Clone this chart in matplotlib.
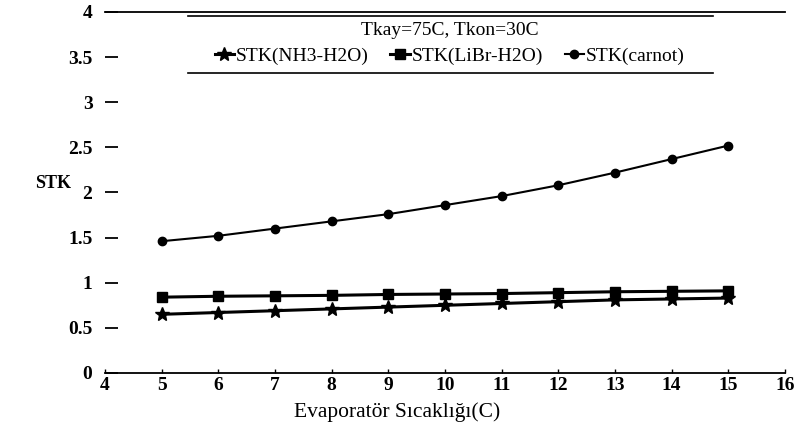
import matplotlib
matplotlib.use("Agg")
import matplotlib.pyplot as plt
from matplotlib.ticker import FuncFormatter

plt.rcParams['font.family'] = ['Liberation Serif', 'DejaVu Serif']

# evaporator temperature (C)
evap_temp = [5, 6, 7, 8, 9, 10, 11, 12, 13, 14, 15]

# COP (STK) values
stk_nh3 = [0.65, 0.67, 0.69, 0.71, 0.73, 0.75, 0.77, 0.79, 0.81, 0.82, 0.83]
stk_libr = [0.84, 0.85, 0.855, 0.86, 0.87, 0.875, 0.88, 0.89, 0.90, 0.905, 0.91]
stk_carnot = [1.46, 1.52, 1.60, 1.68, 1.76, 1.86, 1.96, 2.08, 2.22, 2.37, 2.52]

x_ticks = list(range(4, 17))
y_ticks = [0, 0.5, 1, 1.5, 2, 2.5, 3, 3.5, 4]

legend_title = "Tkay=75C, Tkon=30C"

fig = plt.figure(figsize=(7.99, 4.34), dpi=100)
ax = fig.add_axes([0.1314, 0.1406, 0.8511, 0.8318])

ax.plot(evap_temp, stk_nh3, color='black', lw=2.2, marker='*', ms=10,
        label='STK(NH3-H2O)')
ax.plot(evap_temp, stk_libr, color='black', lw=2.2, marker='s', ms=7.5,
        label='STK(LiBr-H2O)')
ax.plot(evap_temp, stk_carnot, color='black', lw=1.5, marker='o', ms=6,
        label='STK(carnot)')

ax.set_xlim(4, 16)
ax.set_ylim(0, 4)
ax.set_xticks(x_ticks)
ax.set_yticks(y_ticks)
ax.yaxis.set_major_formatter(FuncFormatter(lambda v, p: f"{v:g}"))

for side in ['left', 'right']:
    ax.spines[side].set_visible(False)
ax.spines['top'].set_linewidth(1.3)
ax.spines['bottom'].set_linewidth(1.3)

ax.tick_params(axis='y', direction='in', length=9, width=1.3, pad=9,
               labelsize=14)
ax.tick_params(axis='x', direction='in', length=3, width=1.0, pad=3,
               labelsize=14)
for lbl in ax.get_xticklabels() + ax.get_yticklabels():
    lbl.set_fontweight('bold')

ax.set_xlabel("Evaporatör Sıcaklığı(C)", fontsize=15.5, labelpad=0)
ax.xaxis.set_label_coords(0.43, -0.08)
fig.text(0.044, 0.578, "STK", fontsize=13, fontweight='bold', va='center')

leg = ax.legend(loc='upper center', bbox_to_anchor=(0.507, 0.995), ncol=3,
                title=legend_title, frameon=False, fontsize=14,
                title_fontsize=14, handlelength=1.0, handletextpad=0.1,
                columnspacing=1.1, borderaxespad=0.0, labelspacing=0.2)
leg._legend_box.sep = 6

# legend box has only top and bottom rules
for yy in [0.99, 0.83]:
    ax.plot([0.122, 0.894], [yy, yy], transform=ax.transAxes, color='black',
            lw=1.2, clip_on=False)

fig.savefig("out.png", dpi=100)
